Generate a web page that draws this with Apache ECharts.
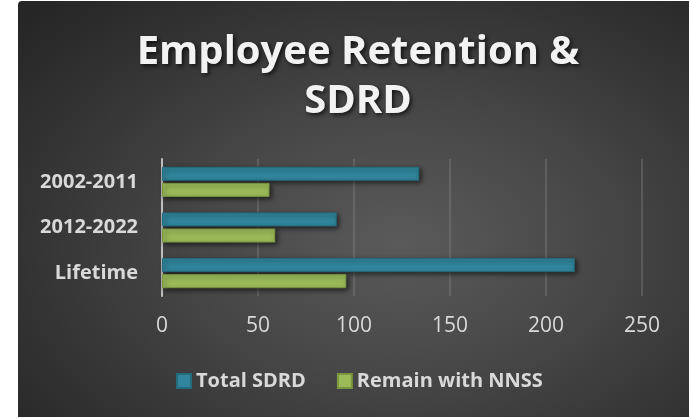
<!DOCTYPE html>
<html>
<head>
<meta charset="utf-8">
<script src="https://cdn.jsdelivr.net/npm/echarts@6/dist/echarts.min.js"></script>
<style>
  html, body { margin: 0; padding: 0; background: #ffffff; }
  #bg { position: absolute; left: 18px; top: 1px; width: 671px; height: 416px;
        border-radius: 4px 0 0 0;
        background: radial-gradient(ellipse 75% 80% at 57% 58%, #5a5a5a 0%, #474747 40%, #333333 75%, #262626 100%); }
  #chart { position: absolute; left: 0; top: 0; width: 689px; height: 418px; }
</style>
</head>
<body>
<div id="bg"></div>
<div id="chart"></div>
<script>
const categories = ['2002-2011', '2012-2022', 'Lifetime'];
const totalSDRD = [134, 91, 215];
const remainNNSS = [56, 59, 96];
const seriesNames = ['Total SDRD', 'Remain with NNSS'];
const xTicks = { min: 0, max: 250, interval: 50 };

const chart = echarts.init(document.getElementById('chart'), null, { renderer: 'canvas' });
const font = '"Open Sans", "Liberation Sans", sans-serif';
chart.setOption({
  backgroundColor: 'transparent',
  animation: false,
  title: {
    text: 'Employee Retention &\nSDRD',
    left: 353,
    textAlign: 'center',
    top: 23,
    textStyle: {
      fontFamily: font, fontWeight: 'bold', fontSize: 40, lineHeight: 49,
      color: '#f2f2f2',
      textShadowColor: 'rgba(0,0,0,0.7)', textShadowBlur: 4,
      textShadowOffsetX: 2, textShadowOffsetY: 2
    }
  },
  legend: {
    left: 171, top: 366,
    itemWidth: 14, itemHeight: 14, itemGap: 31,
    icon: 'rect',
    data: seriesNames,
    textStyle: { fontFamily: font, fontWeight: 'bold', fontSize: 20, color: '#d9d9d9' }
  },
  grid: { left: 162, right: 47, top: 159, bottom: 122, containLabel: false },
  xAxis: {
    type: 'value', min: xTicks.min, max: xTicks.max, interval: xTicks.interval,
    axisLine: { show: false }, axisTick: { show: false },
    splitLine: { show: true, lineStyle: { color: 'rgba(140,140,140,0.45)', width: 1.5 } },
    axisLabel: { margin: 20, fontFamily: font, fontSize: 21, color: '#d9d9d9' }
  },
  yAxis: {
    type: 'category', data: categories, inverse: true,
    axisLine: { show: true, lineStyle: { color: '#bfbfbf', width: 2 } },
    axisTick: { show: false },
    axisLabel: { margin: 24, fontFamily: font, fontWeight: 'bold', fontSize: 20, color: '#d9d9d9' }
  },
  series: [
    {
      name: seriesNames[0], type: 'bar', data: totalSDRD,
      barWidth: 14, barGap: '15%',
      itemStyle: { color: '#31859c', borderColor: '#256b7e', borderWidth: 1,
        shadowColor: 'rgba(0,0,0,0.6)', shadowBlur: 5, shadowOffsetX: 2, shadowOffsetY: 2 }
    },
    {
      name: seriesNames[1], type: 'bar', data: remainNNSS,
      barWidth: 14, barGap: '15%',
      itemStyle: { color: '#9bbb59', borderColor: '#7a9640', borderWidth: 1,
        shadowColor: 'rgba(0,0,0,0.6)', shadowBlur: 5, shadowOffsetX: 2, shadowOffsetY: 2 }
    }
  ]
});
</script>
</body>
</html>
